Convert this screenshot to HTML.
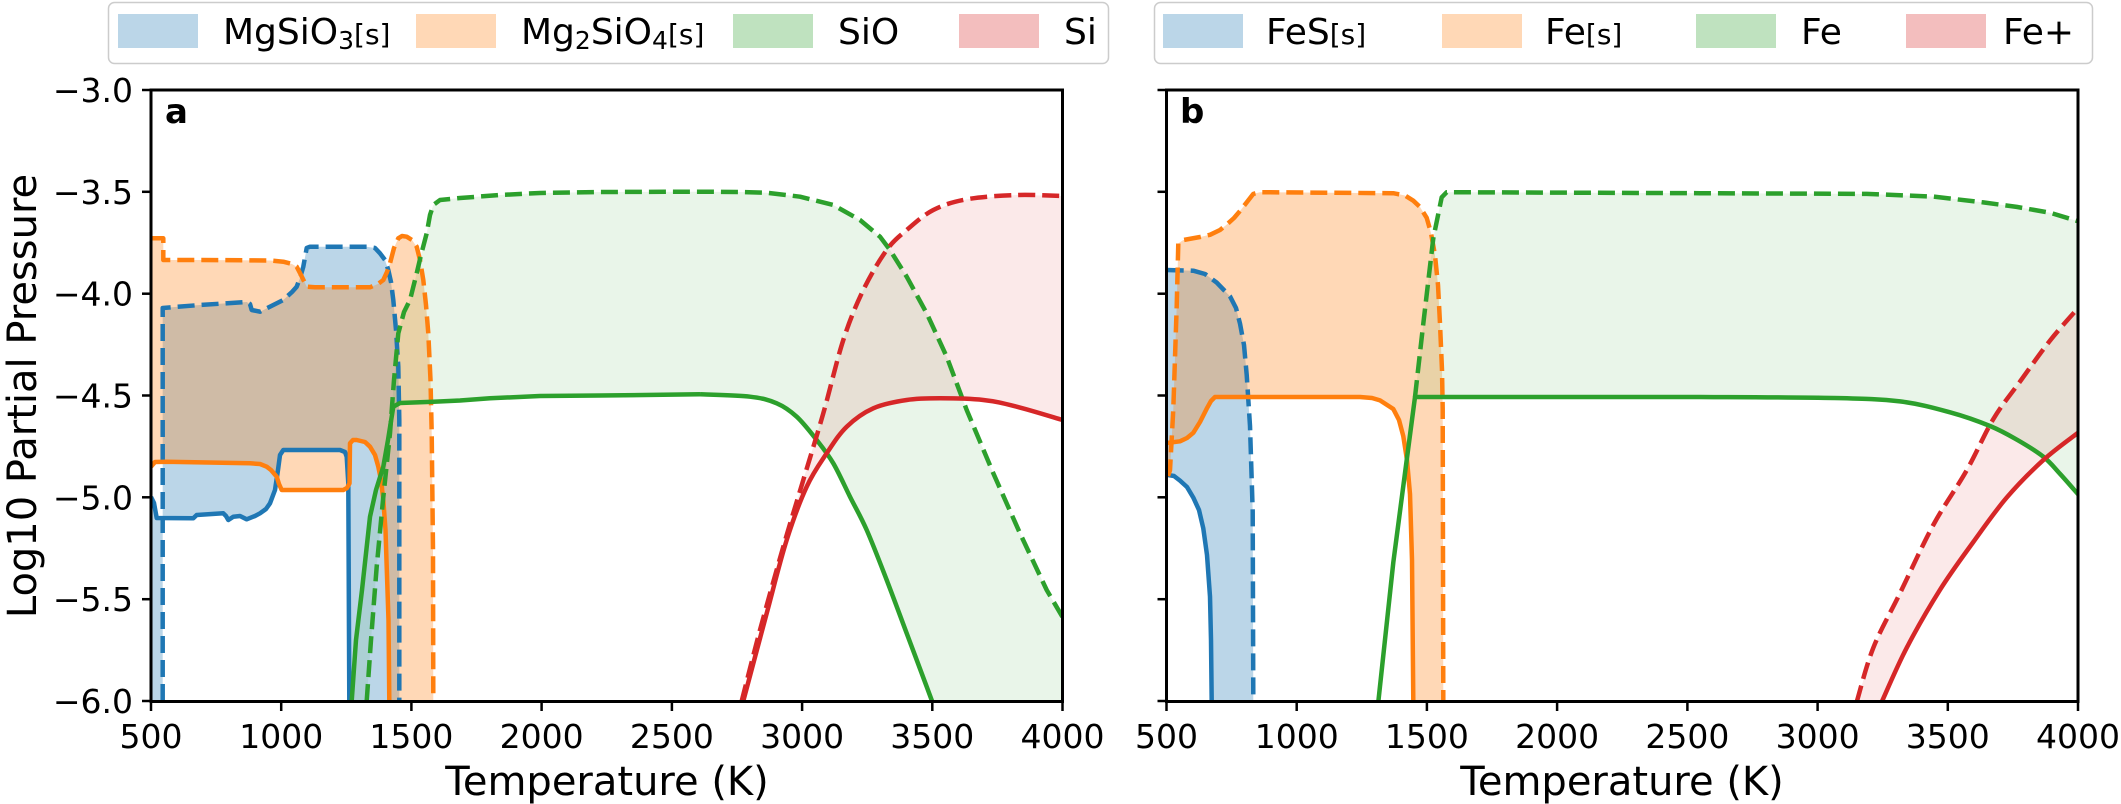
<!DOCTYPE html>
<html>
<head>
<meta charset="utf-8">
<style>
  html,body{margin:0;padding:0;background:#ffffff;}
  svg{display:block;}
  text{font-family:"DejaVu Sans","Liberation Sans",sans-serif;fill:#000;}
</style>
</head>
<body>
<svg width="2121" height="804" viewBox="0 0 2121 804" xmlns="http://www.w3.org/2000/svg">
  <defs>
    <clipPath id="ca"><rect x="151" y="90" width="911.5" height="611.5"/></clipPath>
    <clipPath id="cb"><rect x="1166.5" y="90" width="911.5" height="611.5"/></clipPath>
  </defs>

  <!-- ================= Legend A ================= -->
  <rect x="108.5" y="2.5" width="1000" height="61" rx="6" ry="6" fill="#ffffff" stroke="#cccccc" stroke-width="1.5"/>
  <rect x="118" y="14" width="80" height="34" fill="#1f77b4" fill-opacity="0.3"/>
  <text x="223" y="44" font-size="36">MgSiO<tspan font-size="25" dy="5">3</tspan><tspan font-size="28" dy="-5">[s]</tspan></text>
  <rect x="416" y="14" width="80" height="34" fill="#ff7f0e" fill-opacity="0.3"/>
  <text x="521" y="44" font-size="36">Mg<tspan font-size="25" dy="5">2</tspan><tspan dy="-5">SiO</tspan><tspan font-size="25" dy="5">4</tspan><tspan font-size="28" dy="-5">[s]</tspan></text>
  <rect x="733" y="14" width="80" height="34" fill="#2ca02c" fill-opacity="0.3"/>
  <text x="838" y="44" font-size="36">SiO</text>
  <rect x="959" y="14" width="80" height="34" fill="#d62728" fill-opacity="0.3"/>
  <text x="1064" y="44" font-size="36">Si</text>

  <!-- ================= Legend B ================= -->
  <rect x="1154.5" y="2.5" width="938" height="61" rx="6" ry="6" fill="#ffffff" stroke="#cccccc" stroke-width="1.5"/>
  <rect x="1163" y="14" width="80" height="34" fill="#1f77b4" fill-opacity="0.3"/>
  <text x="1266" y="44" font-size="36">FeS<tspan font-size="28">[s]</tspan></text>
  <rect x="1442" y="14" width="80" height="34" fill="#ff7f0e" fill-opacity="0.3"/>
  <text x="1545" y="44" font-size="36">Fe<tspan font-size="28">[s]</tspan></text>
  <rect x="1696" y="14" width="80" height="34" fill="#2ca02c" fill-opacity="0.3"/>
  <text x="1801" y="44" font-size="36">Fe</text>
  <rect x="1906" y="14" width="80" height="34" fill="#d62728" fill-opacity="0.3"/>
  <text x="2003" y="44" font-size="36">Fe+</text>

  <!-- ================= Panel A data ================= -->
  <g clip-path="url(#ca)" stroke-linejoin="round">
    <path fill="#1f77b4" fill-opacity="0.3" stroke="none" d="M151,701 L162.7,701 L162.7,308 L200,305 L246.7,302 L250,304 L251.7,310 L260,311.7 L283.3,300 L292,292 L296.7,286.7 L300,278 L303.3,266.7 L306.7,248 L310,246.7 L366.7,246.7 L375,248 L380,253.3 L385,260 L388.3,270 L391,282 L393.3,300 L396,330 L398.3,366.7 L399.3,420 L399.3,701 L349.3,701 L348.3,483.3 L346.7,456.7 L345,452 L340,450 L283.3,450 L280,455 L278,470 L275,490 L270,503.3 L266,509 L260,513.3 L255,516 L246.7,519.3 L240,516 L233.3,516.7 L228.3,520 L226,516 L223.3,513.3 L196.7,515 L193.3,518.3 L156.7,518 L154,503 L151,497 Z"/>
    <path fill="#ff7f0e" fill-opacity="0.3" stroke="none" d="M151,238.3 L163.3,238.3 L163.3,260 L200,260 L270,260.5 L283.3,261.7 L292,264 L296.7,266.7 L301,275 L306.7,286.7 L315,287.3 L370,287.3 L378,284 L383.3,280 L387,272 L390,263.3 L394,248 L398.3,238.3 L402,236 L406.7,236.7 L412,240 L416.7,246.7 L420,260 L423.3,280 L426,305 L428.3,333.3 L430.5,380 L431.7,433 L433,550 L433.3,701 L389.3,701 L388.5,620 L386.7,566.7 L385.5,530 L383.3,500 L381,480 L378.3,466.7 L375,455 L370,446.7 L365,442 L356.7,440 L353,440 L350,443.3 L349.5,483.3 L347,488 L343.3,490 L281.7,490 L279,484 L276.7,476.7 L271,470 L266.7,466.7 L260,464 L250,463.3 L166.7,461.7 L155,462 L151,466.7 Z"/>
    <path fill="#2ca02c" fill-opacity="0.1" stroke="none" d="M366.7,701 L371,640 L376.7,566.7 L383,500 L390,433.3 L394,380 L398.3,333.3 L404,312 L410,300 L413,288 L416.7,273.3 L421,255 L426.7,233.3 L430,215 L433.3,205 L440,200 L460,198 L500,195 L540,193 L600,192 L700,191.7 L740,192 L766.7,192.7 L800,196.7 L833.3,205 L860,220 L880,236.7 L890,250 L906.7,276.7 L926.7,313.3 L946.7,356.7 L966.7,410 L993.3,473.3 L1020,533.3 L1046.7,590 L1062.5,617 L1062.5,701 L932,701 L926.7,686.7 L906.7,633.3 L886.7,580 L866.7,530 L850,496.7 L833.3,463.3 L816.7,440 L796.7,416.7 L776.7,403.3 L750,396.7 L700,394.3 L600,395.5 L540,396 L490,398.3 L460,400.5 L433.3,401.7 L400,403 L393.3,406.7 L388,440 L383.3,466.7 L376,490 L370,516.7 L362,590 L356,640 L351.7,701 Z"/>
    <path fill="#d62728" fill-opacity="0.1" stroke="none" d="M741.7,701 L760,630 L783.3,546.7 L803.3,480 L823.3,413.3 L843.3,340 L863.3,290 L886.7,250 L906.7,230 L933.3,210 L966.7,199.3 L1016.7,195 L1062.5,196 L1062.5,420 L1016.7,406.7 L983.3,400 L940,398.3 L906.7,400 L873.3,408.3 L846.7,426.7 L826.7,453.3 L806.7,486.7 L786.7,540 L766.7,613.3 L743.3,701 Z"/>

    <g fill="none" stroke-width="4.5">
      <path stroke="#1f77b4" stroke-dasharray="17,7" d="M162.7,701 L162.7,308 L200,305 L246.7,302 L250,304 L251.7,310 L260,311.7 L283.3,300 L292,292 L296.7,286.7 L300,278 L303.3,266.7 L306.7,248 L310,246.7 L366.7,246.7 L375,248 L380,253.3 L385,260 L388.3,270 L391,282 L393.3,300 L396,330 L398.3,366.7 L399.3,420 L399.3,701"/>
      <path stroke="#1f77b4" d="M151,497 L154,503 L156.7,518 L193.3,518.3 L196.7,515 L223.3,513.3 L226,516 L228.3,520 L233.3,516.7 L240,516 L246.7,519.3 L255,516 L260,513.3 L266,509 L270,503.3 L275,490 L278,470 L280,455 L283.3,450 L340,450 L345,452 L346.7,456.7 L348.3,483.3 L349.3,701"/>
      <path stroke="#ff7f0e" stroke-dasharray="17,7" d="M151,238.3 L163.3,238.3 L163.3,260 L200,260 L270,260.5 L283.3,261.7 L292,264 L296.7,266.7 L301,275 L306.7,286.7 L315,287.3 L370,287.3 L378,284 L383.3,280 L387,272 L390,263.3 L394,248 L398.3,238.3 L402,236 L406.7,236.7 L412,240 L416.7,246.7 L420,260 L423.3,280 L426,305 L428.3,333.3 L430.5,380 L431.7,433 L433,550 L433.3,701"/>
      <path stroke="#ff7f0e" d="M151,466.7 L155,462 L166.7,461.7 L250,463.3 L260,464 L266.7,466.7 L271,470 L276.7,476.7 L279,484 L281.7,490 L343.3,490 L347,488 L349.5,483.3 L350,443.3 L353,440 L356.7,440 L365,442 L370,446.7 L375,455 L378.3,466.7 L381,480 L383.3,500 L385.5,530 L386.7,566.7 L388.5,620 L389.3,701"/>
      <path stroke="#2ca02c" stroke-dasharray="17,7" d="M366.7,701 L371,640 L376.7,566.7 L383,500 L390,433.3 L394,380 L398.3,333.3 L404,312 L410,300 L413,288 L416.7,273.3 L421,255 L426.7,233.3 L430,215 L433.3,205 L440,200 L460,198 L500,195 L540,193 L600,192 L700,191.7 L740,192 L766.7,192.7 L800,196.7 L833.3,205 L860,220 L880,236.7 L890,250 L906.7,276.7 L926.7,313.3 L946.7,356.7 L966.7,410 L993.3,473.3 L1020,533.3 L1046.7,590 L1062.5,617"/>
      <path class="sm" stroke="#2ca02c" d="M700,394.3 L750,396.7 L776.7,403.3 L796.7,416.7 L816.7,440 L833.3,463.3 L850,496.7 L866.7,530 L886.7,580 L906.7,633.3 L926.7,686.7 L932,701"/>
      <path stroke="#2ca02c" d="M351.7,701 L356,640 L362,590 L370,516.7 L376,490 L383.3,466.7 L388,440 L393.3,406.7 L400,403 L433.3,401.7 L460,400.5 L490,398.3 L540,396 L600,395.5 L700,394.3"/>
      <path class="sm" stroke="#d62728" stroke-dasharray="17,7" d="M741.7,701 L760,630 L783.3,546.7 L803.3,480 L823.3,413.3 L843.3,340 L863.3,290 L886.7,250 L906.7,230 L933.3,210 L966.7,199.3 L1016.7,195 L1062.5,196"/>
      <path class="sm" stroke="#d62728" d="M743.3,701 L766.7,613.3 L786.7,540 L806.7,486.7 L826.7,453.3 L846.7,426.7 L873.3,408.3 L906.7,400 L940,398.3 L983.3,400 L1016.7,406.7 L1062.5,420"/>
    </g>
  </g>

  <!-- ================= Panel B data ================= -->
  <g clip-path="url(#cb)" stroke-linejoin="round">
    <path fill="#1f77b4" fill-opacity="0.3" stroke="none" d="M1166.7,270 L1193.3,270.7 L1205,274 L1216.7,282.6 L1230,296.3 L1236,308 L1240,323.6 L1244,345 L1246.7,374.8 L1250,426 L1252.7,511.3 L1253.3,702 L1211.7,702 L1211,640 L1210,596.6 L1207,555 L1203.3,528.4 L1199,510 L1193.3,497.6 L1187,487 L1180,480.6 L1174,476 L1166.7,474.8 Z"/>
    <path fill="#ff7f0e" fill-opacity="0.3" stroke="none" d="M1168,476 L1170,470.3 L1173.3,409 L1176.7,306.5 L1178.3,243.4 L1183.3,240 L1200,237 L1210,234.8 L1220,230 L1226.7,224.6 L1234,218 L1240,211 L1247,202 L1253.3,193.9 L1260,192.2 L1393.3,193.2 L1405,195.5 L1413.3,200.7 L1420,207 L1426.7,217.8 L1431,233 L1435,255.3 L1438,285 L1440,323.6 L1442,370 L1442.7,408.7 L1443.3,702 L1413.3,702 L1412,560 L1410,494.2 L1407,460 L1403.3,436.2 L1399,420 L1393.3,409 L1380,400.4 L1372,398 L1360,397 L1215,397 L1211,401 L1206.7,408.7 L1200,422 L1193.3,432.8 L1187,438 L1180,441.3 L1166.7,443 Z"/>
    <path fill="#2ca02c" fill-opacity="0.1" stroke="none" d="M1415,397 L1423.3,323.6 L1433.3,238.3 L1441.7,197.3 L1446.7,192.2 L1700,193.2 L1866.7,193.9 L1933.3,196.6 L1983.3,202.4 L2016.7,206.9 L2050,212.7 L2078,221.2 L2078,494.2 L2060,473.8 L2043.3,456.7 L2016.7,439.6 L1990,426 L1950,412.3 L1900,401.4 L1833.3,398 L1700,397 Z"/>
    <path fill="#d62728" fill-opacity="0.1" stroke="none" d="M1856.7,702 L1873.3,647.8 L1900,593.2 L1933.3,525 L1966.7,470.3 L1993.3,419.1 L2020,381.6 L2050,340.6 L2078,308.2 L2078,432.8 L2043.3,460.1 L2006.7,497.6 L1973.3,542 L1940,589.8 L1906.7,647.8 L1881.7,702 Z"/>

    <g fill="none" stroke-width="4.5">
      <path stroke="#1f77b4" stroke-dasharray="17,7" d="M1166.7,270 L1193.3,270.7 L1205,274 L1216.7,282.6 L1230,296.3 L1236,308 L1240,323.6 L1244,345 L1246.7,374.8 L1250,426 L1252.7,511.3 L1253.3,702"/>
      <path stroke="#1f77b4" d="M1166.7,474.8 L1174,476 L1180,480.6 L1187,487 L1193.3,497.6 L1199,510 L1203.3,528.4 L1207,555 L1210,596.6 L1211,640 L1211.7,702"/>
      <path stroke="#ff7f0e" stroke-dasharray="17,7" d="M1168,476 L1170,470.3 L1173.3,409 L1176.7,306.5 L1178.3,243.4 L1183.3,240 L1200,237 L1210,234.8 L1220,230 L1226.7,224.6 L1234,218 L1240,211 L1247,202 L1253.3,193.9 L1260,192.2 L1393.3,193.2 L1405,195.5 L1413.3,200.7 L1420,207 L1426.7,217.8 L1431,233 L1435,255.3 L1438,285 L1440,323.6 L1442,370 L1442.7,408.7 L1443.3,702"/>
      <path stroke="#ff7f0e" d="M1166.7,443 L1180,441.3 L1187,438 L1193.3,432.8 L1200,422 L1206.7,408.7 L1211,401 L1215,397 L1360,397 L1372,398 L1380,400.4 L1393.3,409 L1399,420 L1403.3,436.2 L1407,460 L1410,494.2 L1412,560 L1413.3,702"/>
      <path stroke="#2ca02c" stroke-dasharray="17,7" d="M1415,397 L1423.3,323.6 L1433.3,238.3 L1441.7,197.3 L1446.7,192.2 L1700,193.2 L1866.7,193.9 L1933.3,196.6 L1983.3,202.4 L2016.7,206.9 L2050,212.7 L2078,221.2"/>
      <path stroke="#2ca02c" d="M1378.3,702 L1393.3,562.5 L1406.7,460.1 L1415,397 L1700,397"/>
      <path class="sm" stroke="#2ca02c" d="M1700,397 L1833.3,398 L1900,401.4 L1950,412.3 L1990,426 L2016.7,439.6 L2043.3,456.7 L2060,473.8 L2078,494.2"/>
      <path class="sm" stroke="#d62728" stroke-dasharray="17,7" d="M1856.7,702 L1873.3,647.8 L1900,593.2 L1933.3,525 L1966.7,470.3 L1993.3,419.1 L2020,381.6 L2050,340.6 L2078,308.2"/>
      <path class="sm" stroke="#d62728" d="M1881.7,702 L1906.7,647.8 L1940,589.8 L1973.3,542 L2006.7,497.6 L2043.3,460.1 L2078,432.8"/>
    </g>
  </g>

  <!-- ================= Spines ================= -->
  <rect x="151" y="90" width="911.5" height="611.5" fill="none" stroke="#000" stroke-width="3"/>
  <rect x="1166.5" y="90" width="911.5" height="611.5" fill="none" stroke="#000" stroke-width="3"/>

  <text x="165" y="123" font-size="34" font-weight="bold">a</text>
  <text x="1180" y="123" font-size="34" font-weight="bold">b</text>

  <!-- ================= Y ticks ================= -->
  <g stroke="#000" stroke-width="2.5">
    <line x1="142" y1="90" x2="151" y2="90"/>
    <line x1="142" y1="191.8" x2="151" y2="191.8"/>
    <line x1="142" y1="293.7" x2="151" y2="293.7"/>
    <line x1="142" y1="395.5" x2="151" y2="395.5"/>
    <line x1="142" y1="497.3" x2="151" y2="497.3"/>
    <line x1="142" y1="599.2" x2="151" y2="599.2"/>
    <line x1="142" y1="701" x2="151" y2="701"/>
    <line x1="1157.5" y1="90" x2="1166.5" y2="90"/>
    <line x1="1157.5" y1="191.8" x2="1166.5" y2="191.8"/>
    <line x1="1157.5" y1="293.7" x2="1166.5" y2="293.7"/>
    <line x1="1157.5" y1="395.5" x2="1166.5" y2="395.5"/>
    <line x1="1157.5" y1="497.3" x2="1166.5" y2="497.3"/>
    <line x1="1157.5" y1="599.2" x2="1166.5" y2="599.2"/>
    <line x1="1157.5" y1="701" x2="1166.5" y2="701"/>
  </g>
  <g font-size="33" text-anchor="end">
    <text x="133" y="102">−3.0</text>
    <text x="133" y="203.8">−3.5</text>
    <text x="133" y="305.7">−4.0</text>
    <text x="133" y="407.5">−4.5</text>
    <text x="133" y="509.3">−5.0</text>
    <text x="133" y="611.2">−5.5</text>
    <text x="133" y="713">−6.0</text>
  </g>

  <!-- ================= X ticks ================= -->
  <g stroke="#000" stroke-width="2.5">
    <line x1="151" y1="701.5" x2="151" y2="711"/>
    <line x1="281.2" y1="701.5" x2="281.2" y2="711"/>
    <line x1="411.4" y1="701.5" x2="411.4" y2="711"/>
    <line x1="541.6" y1="701.5" x2="541.6" y2="711"/>
    <line x1="671.9" y1="701.5" x2="671.9" y2="711"/>
    <line x1="802.1" y1="701.5" x2="802.1" y2="711"/>
    <line x1="932.3" y1="701.5" x2="932.3" y2="711"/>
    <line x1="1062.5" y1="701.5" x2="1062.5" y2="711"/>
    <line x1="1166.5" y1="701.5" x2="1166.5" y2="711"/>
    <line x1="1296.7" y1="701.5" x2="1296.7" y2="711"/>
    <line x1="1426.9" y1="701.5" x2="1426.9" y2="711"/>
    <line x1="1557.1" y1="701.5" x2="1557.1" y2="711"/>
    <line x1="1687.4" y1="701.5" x2="1687.4" y2="711"/>
    <line x1="1817.6" y1="701.5" x2="1817.6" y2="711"/>
    <line x1="1947.8" y1="701.5" x2="1947.8" y2="711"/>
    <line x1="2078" y1="701.5" x2="2078" y2="711"/>
  </g>
  <g font-size="33" text-anchor="middle">
    <text x="151" y="748">500</text>
    <text x="281.2" y="748">1000</text>
    <text x="411.4" y="748">1500</text>
    <text x="541.6" y="748">2000</text>
    <text x="671.9" y="748">2500</text>
    <text x="802.1" y="748">3000</text>
    <text x="932.3" y="748">3500</text>
    <text x="1062.5" y="748">4000</text>
    <text x="1166.5" y="748">500</text>
    <text x="1296.7" y="748">1000</text>
    <text x="1426.9" y="748">1500</text>
    <text x="1557.1" y="748">2000</text>
    <text x="1687.4" y="748">2500</text>
    <text x="1817.6" y="748">3000</text>
    <text x="1947.8" y="748">3500</text>
    <text x="2078" y="748">4000</text>
  </g>

  <text x="607" y="795" font-size="40" text-anchor="middle">Temperature (K)</text>
  <text x="1622" y="795" font-size="40" text-anchor="middle">Temperature (K)</text>
  <text transform="translate(36,396) rotate(-90)" font-size="40" text-anchor="middle">Log10 Partial Pressure</text>
</svg>
<script>
(function(){
  var ps = document.querySelectorAll('path.sm');
  for (var k = 0; k < ps.length; k++) {
    var p = ps[k];
    var raw = p.getAttribute('d').replace(/[MLZ]/g, ' ').trim().split(/\s+/);
    var pts = raw.map(function(s){ var a = s.split(','); return [parseFloat(a[0]), parseFloat(a[1])]; });
    if (pts.length < 3) continue;
    var d = 'M' + pts[0][0] + ',' + pts[0][1];
    for (var i = 0; i < pts.length - 1; i++) {
      var p0 = pts[i - 1] || pts[i], p1 = pts[i], p2 = pts[i + 1], p3 = pts[i + 2] || pts[i + 1];
      var c1x = p1[0] + (p2[0] - p0[0]) / 6, c1y = p1[1] + (p2[1] - p0[1]) / 6;
      var c2x = p2[0] - (p3[0] - p1[0]) / 6, c2y = p2[1] - (p3[1] - p1[1]) / 6;
      d += ' C' + c1x.toFixed(2) + ',' + c1y.toFixed(2) + ' ' + c2x.toFixed(2) + ',' + c2y.toFixed(2) + ' ' + p2[0] + ',' + p2[1];
    }
    p.setAttribute('d', d);
  }
})();
</script>
</body>
</html>
